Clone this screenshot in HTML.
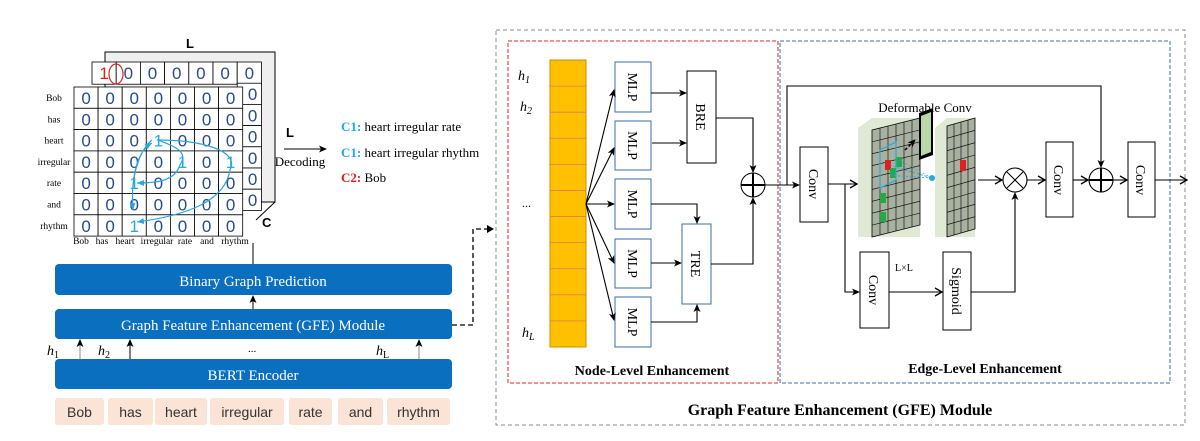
<!DOCTYPE html>
<html><head><meta charset="utf-8">
<style>
html,body{margin:0;padding:0;background:#fff;}
svg{display:block;}
.s{font-family:"Liberation Serif",serif;}
.a{font-family:"Liberation Sans",sans-serif;}
</style></head>
<body>
<svg id="g" width="1200" height="441" viewBox="0 0 1200 441" xmlns="http://www.w3.org/2000/svg">
<defs>
<marker id="ar" markerWidth="8" markerHeight="8" refX="7" refY="4" orient="auto" markerUnits="userSpaceOnUse">
<path d="M0,0.5 L8,4 L0,7.5 L2,4 z" fill="#000"/></marker>
<marker id="ao" markerWidth="10" markerHeight="10" refX="8" refY="5" orient="auto" markerUnits="userSpaceOnUse">
<path d="M1,1 L8,5 L1,9" fill="none" stroke="#000" stroke-width="1.3"/></marker>
<marker id="ab" markerWidth="8" markerHeight="8" refX="7" refY="4" orient="auto" markerUnits="userSpaceOnUse">
<path d="M0,1 L7,4 L0,7 z" fill="#29a8e0"/></marker>
</defs>

<text x="190" y="48" class="a" font-size="13" font-weight="bold" text-anchor="middle">L</text>
<rect x="105" y="52" width="170" height="150" fill="#efefef" stroke="#000" stroke-width="1"/>
<line x1="275" y1="202" x2="256" y2="220" stroke="#000"/>
<text x="262" y="227" class="a" font-size="13" font-weight="bold">C</text>
<g id="back"></g>
<g id="front"></g>
<g id="labels" class="s" font-size="9.5"></g>
<ellipse cx="116" cy="74" rx="7" ry="10" fill="none" stroke="#e02020" stroke-width="1.2"/>
<g fill="none" stroke="#29a8e0" stroke-width="1.2">
<path d="M152,140 C140,150 130,175 133,210" marker-end="url(#ab)"/>
<path d="M157,140 C200,140 240,150 230,170 C225,200 190,215 137,222" marker-end="url(#ab)"/>
<path d="M158,140 C170,145 190,150 180,165 C175,180 160,183 137,183" marker-end="url(#ab)"/>
<path d="M133,185 C135,165 140,150 152,143" marker-end="url(#ab)"/>
</g>
<text x="286" y="137" class="a" font-size="13" font-weight="bold">L</text>
<line x1="284" y1="149" x2="326" y2="149" stroke="#000" marker-end="url(#ar)"/>
<text x="300" y="166" class="s" font-size="13" text-anchor="middle">Decoding</text>
<text x="341" y="131" class="s" font-size="13"><tspan fill="#1fa8e6" font-weight="bold">C1:</tspan> heart irregular rate</text>
<text x="341" y="157" class="s" font-size="13"><tspan fill="#1fa8e6" font-weight="bold">C1:</tspan> heart irregular rhythm</text>
<text x="341" y="182" class="s" font-size="13"><tspan fill="#e02020" font-weight="bold">C2:</tspan> Bob</text>

<g class="s" font-size="15" fill="#fff" text-anchor="middle">
<rect x="55" y="264" width="397" height="31" rx="4" fill="#0a6fbe"/>
<text x="253" y="286">Binary Graph Prediction</text>
<rect x="55" y="309" width="397" height="30" rx="4" fill="#0a6fbe"/>
<text x="253" y="330">Graph Feature Enhancement (GFE) Module</text>
<rect x="55" y="359" width="397" height="30" rx="4" fill="#0a6fbe"/>
<text x="253" y="380">BERT Encoder</text>
</g>
<g stroke="#000" stroke-width="1">
<line x1="253" y1="309" x2="253" y2="296" marker-end="url(#ar)"/>
<line x1="253" y1="264" x2="253" y2="243" />
<line x1="80" y1="359" x2="80" y2="340" stroke="#888" marker-end="url(#ar)"/>
<line x1="130" y1="359" x2="130" y2="340" marker-end="url(#ar)"/>
<line x1="419" y1="359" x2="419" y2="340" stroke="#888" marker-end="url(#ar)"/>
</g>
<g class="s" font-size="14" font-style="italic">
<text x="47" y="355">h<tspan font-size="10" dy="3" font-style="normal">1</tspan></text>
<text x="98" y="355">h<tspan font-size="10" dy="3" font-style="normal">2</tspan></text>
<text x="376" y="355">h<tspan font-size="10" dy="3" font-style="normal">L</tspan></text>
</g>
<text x="248" y="352" class="s" font-size="11">...</text>
<g class="a" font-size="14" fill="#333" text-anchor="middle" id="tok"></g>
<path d="M452,325 L473,325 L473,229 L488,229" fill="none" stroke="#000" stroke-width="1.3" stroke-dasharray="5,3"/>
<path d="M487,225 L494,229 L487,233 z" fill="#000"/>

<rect x="496" y="30" width="689" height="395" fill="none" stroke="#888" stroke-dasharray="4,3"/>
<rect x="508" y="41" width="270" height="342" fill="none" stroke="#e02020" stroke-dasharray="4,2"/>
<rect x="780" y="41" width="390" height="342" fill="none" stroke="#3b6ea5" stroke-dasharray="4,2"/>
<text x="840" y="415" class="s" font-size="16" font-weight="bold" text-anchor="middle">Graph Feature Enhancement (GFE) Module</text>
<text x="652" y="375" class="s" font-size="14" font-weight="bold" text-anchor="middle">Node-Level Enhancement</text>
<text x="985" y="373" class="s" font-size="14" font-weight="bold" text-anchor="middle">Edge-Level Enhancement</text>

<rect x="550" y="60" width="36" height="287" fill="#ffc000" stroke="#c89000"/>
<g id="obar" stroke="#e87850" stroke-width="0.8"></g>
<g class="s" font-size="14" font-style="italic" id="hl"></g>
<text x="522" y="207" class="s" font-size="12">...</text>

<g id="mlps"></g>
<rect x="687" y="71" width="29" height="92" fill="#fff" stroke="#000"/>
<text transform="translate(701,117) rotate(90)" class="s" font-size="14" text-anchor="middle" dy="5">BRE</text>
<rect x="682" y="224" width="29" height="80" fill="#fff" stroke="#3b6ea5"/>
<text transform="translate(696,264) rotate(90)" class="s" font-size="14" text-anchor="middle" dy="5">TRE</text>
<g stroke="#000" stroke-width="1.1" fill="none">
<line x1="586" y1="204" x2="614" y2="90" marker-end="url(#ar)"/>
<line x1="586" y1="204" x2="614" y2="148" marker-end="url(#ar)"/>
<line x1="586" y1="204" x2="614" y2="204" marker-end="url(#ar)"/>
<line x1="586" y1="204" x2="614" y2="263" marker-end="url(#ar)"/>
<line x1="586" y1="204" x2="614" y2="320" marker-end="url(#ar)"/>
<line x1="651" y1="93" x2="686" y2="93" marker-end="url(#ar)"/>
<line x1="652" y1="143" x2="686" y2="143" marker-end="url(#ar)"/>
<polyline points="651,204 697,204 697,223" marker-end="url(#ar)"/>
<line x1="651" y1="263" x2="681" y2="263" marker-end="url(#ar)"/>
<polyline points="651,322 697,322 697,305" marker-end="url(#ar)"/>
<polyline points="716,118 753,118 753,172" marker-end="url(#ar)"/>
<polyline points="711,264 753,264 753,198" marker-end="url(#ar)"/>
<circle cx="753" cy="185" r="12" stroke-width="1"/>
<line x1="741" y1="185" x2="765" y2="185" stroke-width="2"/>
<line x1="753" y1="173" x2="753" y2="197" stroke-width="2"/>
<line x1="765" y1="185" x2="799" y2="185" marker-end="url(#ar)"/>
<polyline points="787,185 787,86 1101,86 1101,167" marker-end="url(#ar)"/>
<line x1="828" y1="184" x2="857" y2="184" marker-end="url(#ao)"/>
<polyline points="845,184 845,292 859,292" marker-end="url(#ar)"/>
<line x1="889" y1="292" x2="942" y2="292" marker-end="url(#ao)"/>
<polyline points="971,292 1015,292 1015,193" marker-end="url(#ar)"/>
<line x1="978" y1="180" x2="1002" y2="180" marker-end="url(#ao)"/>
<line x1="1027" y1="180" x2="1045" y2="180" marker-end="url(#ao)"/>
<line x1="1073" y1="180" x2="1088" y2="180" marker-end="url(#ao)"/>
<line x1="1113" y1="180" x2="1127" y2="180" marker-end="url(#ao)"/>
<line x1="1155" y1="180" x2="1187" y2="180" marker-end="url(#ao)"/>
<circle cx="1015" cy="180" r="12"/>
<line x1="1007" y1="172" x2="1023" y2="188"/><line x1="1023" y1="172" x2="1007" y2="188"/>
<circle cx="1101" cy="180" r="12"/>
<line x1="1089" y1="180" x2="1113" y2="180" stroke-width="2"/>
<line x1="1101" y1="168" x2="1101" y2="192" stroke-width="2"/>
</g>
<g class="s" font-size="14" text-anchor="middle">
<rect x="800" y="147" width="28" height="75" fill="#fff" stroke="#000"/>
<text transform="translate(814,184) rotate(90)" dy="5">Conv</text>
<rect x="860" y="252" width="29" height="76" fill="#fff" stroke="#000"/>
<text transform="translate(874,290) rotate(90)" dy="5">Conv</text>
<rect x="943" y="252" width="28" height="78" fill="#fff" stroke="#000"/>
<text transform="translate(957,291) rotate(90)" dy="5">Sigmoid</text>
<rect x="1046" y="142" width="27" height="75" fill="#fff" stroke="#000"/>
<text transform="translate(1059,180) rotate(90)" dy="5">Conv</text>
<rect x="1128" y="142" width="27" height="75" fill="#fff" stroke="#000"/>
<text transform="translate(1141,180) rotate(90)" dy="5">Conv</text>
</g>
<text x="895" y="271" class="s" font-size="10">L×L</text>
<polygon points="858,128 872,118 920,118 920,237 858,237" fill="#dfe9d3"/>
<polygon points="935,128 947,118 975,118 975,237 935,237" fill="#dfe9d3"/>
<g id="fm"></g>
<text x="925" y="112" class="s" font-size="13" text-anchor="middle">Deformable Conv</text>
<polygon points="919,113 933,108 933,155 919,160" fill="#000"/>
<polygon points="921,116 931,112 931,152 921,156" fill="#b8d8a8"/>
<line x1="905" y1="150" x2="915" y2="140" stroke="#000" stroke-width="1.5" stroke-dasharray="3,2" marker-end="url(#ar)"/>
<g stroke="#29a8e0" stroke-width="0.7" stroke-dasharray="2,2">
<line x1="898" y1="160" x2="932" y2="178"/><line x1="898" y1="168" x2="932" y2="178"/><line x1="898" y1="176" x2="932" y2="178"/><line x1="890" y1="165" x2="932" y2="178"/><line x1="890" y1="175" x2="932" y2="178"/>
</g>
<circle cx="932" cy="178" r="3" fill="#29a8e0"/>
</svg>
<script>
const NS="http://www.w3.org/2000/svg";
function el(p,t,a,txt){const e=document.createElementNS(NS,t);for(const k in a)e.setAttribute(k,a[k]);if(txt!==undefined)e.textContent=txt;document.getElementById(p).appendChild(e);return e;}
const bx=92,by=62,cw=24.2,ch=21.2;
for(let c=0;c<7;c++){el("back","rect",{x:bx+c*cw,y:by,width:cw,height:ch+1,fill:"#fff",stroke:"#000","stroke-width":0.8});
 el("back","text",{x:bx+c*cw+cw/2,y:by+17,"text-anchor":"middle","font-size":17,"font-family":"Liberation Sans,sans-serif",fill:c==0?"#e02020":"#2a4a8a"},c==0?"1":"0");}
for(let r=1;r<7;r++){el("back","rect",{x:bx+6*cw,y:by+r*ch,width:cw,height:ch,fill:"#fff",stroke:"#000","stroke-width":0.8});
 el("back","text",{x:bx+7*cw-4,y:by+r*ch+17,"text-anchor":"end","font-size":17,"font-family":"Liberation Sans,sans-serif",fill:"#2a4a8a"},"0");}
const fx=74,fy=87,fw=24.1,fh=21.3;
const ones={"2,3":1,"3,4":1,"3,6":1,"4,2":1,"6,2":1};
for(let r=0;r<7;r++)for(let c=0;c<7;c++){el("front","rect",{x:fx+c*fw,y:fy+r*fh,width:fw,height:fh,fill:"#fff",stroke:"#000","stroke-width":0.8});
 const o=ones[r+","+c];
 el("front","text",{x:fx+c*fw+fw/2,y:fy+r*fh+17,"text-anchor":"middle","font-size":17,"font-family":"Liberation Sans,sans-serif",fill:o?"#29a8e0":"#2a4a8a"},o?"1":"0");}
const w=["Bob","has","heart","irregular","rate","and","rhythm"];
for(let r=0;r<7;r++)el("labels","text",{x:54,y:fy+r*fh+14,"text-anchor":"middle"},w[r]);
const cx=[81,102,125,157,185,207,235];
for(let c=0;c<7;c++)el("labels","text",{x:cx[c],y:244,"text-anchor":"middle"},w[c]);
const tk=[[55,104],[108,153],[155,207],[210,284],[289,332],[338,383],[387,450]];
tk.forEach((t,i)=>{el("tok","rect",{x:t[0],y:398,width:t[1]-t[0],height:27,rx:3,fill:"#fbe3d6"});el("tok","text",{x:(t[0]+t[1])/2,y:417},w[i]);});
for(let i=1;i<11;i++){const y=60+i*287/11;el("obar","line",{x1:550,y1:y,x2:586,y2:y});}
[["1",518,80],["2",520,111],["L",522,337]].forEach(h=>{const t=el("hl","text",{x:h[1],y:h[2]},"h");const s=document.createElementNS(NS,"tspan");s.setAttribute("font-size","10");s.setAttribute("dy","3");s.textContent=h[0];t.appendChild(s);});
[[62,112],[121,170],[179,229],[239,288],[297,347]].forEach(m=>{el("mlps","rect",{x:615,y:m[0],width:36,height:m[1]-m[0],fill:"#fff",stroke:"#3b6ea5"});
 el("mlps","text",{transform:`translate(633,${(m[0]+m[1])/2}) rotate(90)`,"text-anchor":"middle",dy:5,"font-size":14,"font-family":"Liberation Serif,serif"},"MLP");});
function grid(x0,x1,y0,y1,n,m,sk){
 const P=(u,v)=>[x0+u*(x1-x0), y0+v*(y1-y0)-sk*u+sk*0];
 el("fm","polygon",{points:`${x0},${y0+sk} ${x1},${y0} ${x1},${y1-sk} ${x0},${y1}`,fill:"#a8b0a0",stroke:"#000","stroke-width":0.8});
 for(let i=1;i<n;i++){const x=x0+i*(x1-x0)/n;const d=sk*i/n;el("fm","line",{x1:x,y1:y0+sk-d,x2:x,y2:y1-d,stroke:"#000","stroke-width":0.6});}
 for(let j=1;j<m;j++){const ya=y0+sk+j*(y1-y0-sk)/m, yb=y0+j*(y1-sk-y0)/m;el("fm","line",{x1:x0,y1:ya,x2:x1,y2:yb,stroke:"#000","stroke-width":0.6});}}
grid(872,920,118,237,6,9,12);
grid(947,975,118,237,4,9,8);
el("fm","rect",{x:885,y:160,width:6,height:10,fill:"#e02020"});
el("fm","rect",{x:896,y:157,width:6,height:10,fill:"#22aa44"});
el("fm","rect",{x:880,y:193,width:6,height:10,fill:"#22aa44"});
el("fm","rect",{x:880,y:212,width:6,height:10,fill:"#22aa44"});
el("fm","rect",{x:890,y:168,width:6,height:10,fill:"#22aa44"});
el("fm","rect",{x:960,y:160,width:6,height:11,fill:"#e02020"});
el("fm","polygon",{points:"880,150 896,142 896,180 880,188",fill:"none",stroke:"#29a8e0","stroke-width":1.2});
</script>
</body></html>
